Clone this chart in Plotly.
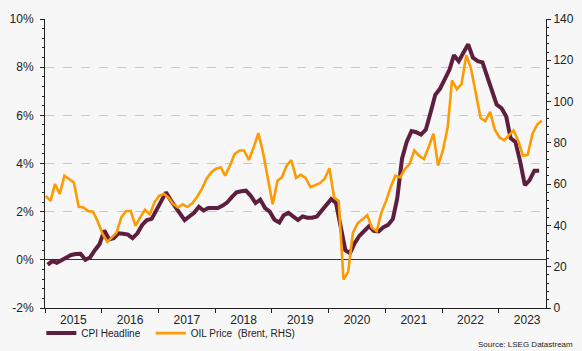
import plotly.graph_objects as go
import pandas as pd

# ---- data ----
cpi_headline = [
    # 2015
    -0.2, -0.05, -0.12, 0.0, 0.12, 0.2, 0.24, 0.25, 0.0, 0.1, 0.4, 0.65,
    # 2016
    1.22, 0.85, 0.9, 1.1, 1.08, 1.05, 0.9, 1.1, 1.45, 1.65, 1.7, 2.05,
    # 2017
    2.4, 2.8, 2.5, 2.2, 1.95, 1.65, 1.8, 1.95, 2.2, 2.05, 2.15, 2.15,
    # 2018
    2.15, 2.25, 2.38, 2.6, 2.8, 2.85, 2.87, 2.66, 2.36, 2.5, 2.15, 2.0,
    # 2019
    1.66, 1.55, 1.85, 1.95, 1.8, 1.65, 1.8, 1.75, 1.75, 1.8, 2.05, 2.3,
    # 2020
    2.52, 2.36, 1.5, 0.4, 0.28, 0.7, 1.0, 1.2, 1.4, 1.2, 1.18, 1.35,
    # 2021
    1.45, 1.7, 2.55, 4.2, 4.9, 5.35, 5.3, 5.2, 5.4, 6.1, 6.85, 7.1,
    # 2022
    7.5, 7.9, 8.5, 8.25, 8.6, 8.95, 8.4, 8.25, 8.2, 7.65, 7.05, 6.45,
    # 2023
    6.3, 5.95, 5.05, 4.9, 4.1, 3.1, 3.3, 3.7, 3.7,
]

oil_brent = [
    # 2015
    54.3, 51.9, 60.0, 55.2, 64.1, 62.5, 60.8, 49.0, 48.7, 47.0, 46.7, 42.0,
    # 2016
    36.0, 32.0, 34.0, 36.5, 43.8, 47.0, 47.0, 39.8, 44.0, 47.6, 45.4, 51.2,
    # 2017
    54.4, 55.2, 53.5, 50.3, 48.7, 50.2, 48.9, 50.7, 53.8, 57.6, 62.5, 65.7,
    # 2018
    67.5, 68.1, 64.1, 69.0, 74.6, 76.3, 76.3, 71.7, 77.9, 84.7, 75.0, 62.0,
    # 2019
    50.3, 61.7, 63.3, 69.0, 71.7, 63.0, 64.5, 63.0, 58.6, 59.5, 60.5, 62.5,
    # 2020
    67.7, 53.5, 51.9, 13.8, 17.5, 36.5, 41.0, 43.0, 45.0, 38.9, 37.3, 46.2,
    # 2021
    52.0, 59.0, 64.1, 63.3, 67.3, 69.8, 76.3, 73.8, 72.2, 77.9, 84.4, 69.0,
    # 2022
    76.3, 87.6, 110.3, 106.0, 108.5, 122.5, 116.0, 104.0, 92.0, 90.5, 95.0, 86.5,
    # 2023
    82.5, 81.3, 83.4, 86.0, 81.0, 73.8, 74.2, 84.4, 89.0, 90.7,
]

cpi_months = pd.date_range("2015-01-01", periods=len(cpi_headline), freq="MS")
oil_months = pd.date_range("2015-01-01", periods=len(oil_brent), freq="MS")

left_tick_vals = [-2, 0, 2, 4, 6, 8, 10]
left_tick_text = ["-2%", "0%", "2%", "4%", "6%", "8%", "10%"]
right_tick_vals = [0, 20, 40, 60, 80, 100, 120, 140]

series_names = ["CPI Headline", "OIL Price\u00a0 (Brent, RHS)"]
source_text = "Source: LSEG Datastream"

# ---- figure ----
CPI_COLOR = "#5E1E3E"
OIL_COLOR = "#FF9A00"
AXIS_COLOR = "#222222"
BG = "#F7F7F7"

fig = go.Figure()
fig.add_trace(go.Scatter(
    x=oil_months + pd.Timedelta(days=5), y=oil_brent, name=series_names[1],
    yaxis="y2", mode="lines", line=dict(color=OIL_COLOR, width=2.6),
    legendrank=2,
))
fig.add_trace(go.Scatter(
    x=cpi_months + pd.Timedelta(days=17), y=cpi_headline,
    name=series_names[0] + "\u00a0\u00a0",
    mode="lines", line=dict(color=CPI_COLOR, width=4),
    legendrank=1,
))

fig.update_layout(
    width=582, height=351,
    margin=dict(l=45, r=36, t=19, b=43, pad=0, autoexpand=False),
    paper_bgcolor=BG, plot_bgcolor=BG,
    font=dict(family="Liberation Sans, Arial, sans-serif", color=AXIS_COLOR, size=11),
    showlegend=True,
    legend=dict(
        orientation="h", xref="container", yref="container",
        x=0.071, xanchor="left", y=0.051, yanchor="middle",
        font=dict(size=10, color=AXIS_COLOR), bgcolor="rgba(0,0,0,0)",
        itemwidth=30, tracegroupgap=0,
    ),
    xaxis=dict(
        type="date", range=["2015-01-01", "2023-11-01"], automargin=False,
        showline=True, linecolor=AXIS_COLOR, linewidth=1,
        ticks="outside", ticklen=4, tickcolor=AXIS_COLOR,
        dtick="M12", tick0="2015-01-01", ticklabelmode="period", tickformat="%Y",
        ticklabelstandoff=-3,
        showgrid=False, zeroline=False, tickfont=dict(size=12),
    ),
    yaxis=dict(
        range=[-2, 10], tickvals=left_tick_vals, ticktext=left_tick_text, automargin=False,
        showline=True, linecolor=AXIS_COLOR, linewidth=1,
        ticks="outside", ticklen=4, tickcolor=AXIS_COLOR, ticklabelstandoff=4,
        minor=dict(dtick=0.4, tick0=0, ticks="outside", ticklen=2, tickcolor=AXIS_COLOR, showgrid=False),
        showgrid=True, gridcolor="#C9C9C9", griddash="dash", gridwidth=1,
        zeroline=True, zerolinecolor="#333333", zerolinewidth=1,
        tickfont=dict(size=12),
    ),
    yaxis2=dict(
        range=[0, 140], tickvals=right_tick_vals, overlaying="y", side="right", automargin=False,
        showline=True, linecolor=AXIS_COLOR, linewidth=1,
        ticks="outside", ticklen=4, tickcolor=AXIS_COLOR,
        minor=dict(dtick=4, tick0=0, ticks="outside", ticklen=2, tickcolor=AXIS_COLOR, showgrid=False),
        showgrid=False, zeroline=False, tickfont=dict(size=12),
    ),
    annotations=[dict(
        text=source_text, xref="paper", yref="paper", x=1.058, y=-0.125,
        xanchor="right", yanchor="middle", showarrow=False,
        font=dict(size=8, color=AXIS_COLOR),
    )],
)

fig.write_html("out.html")
